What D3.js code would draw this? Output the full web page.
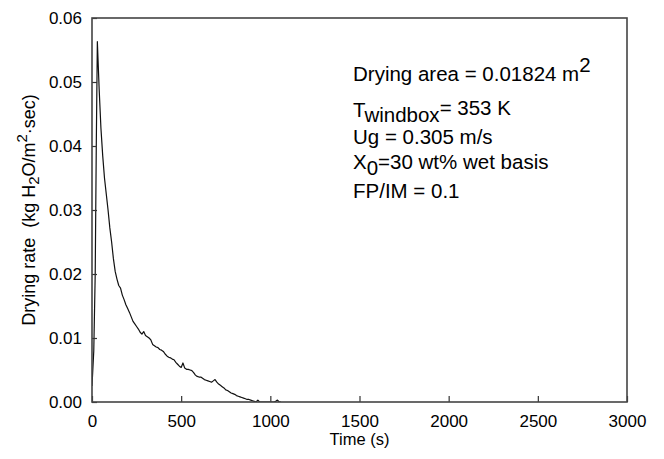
<!DOCTYPE html>
<html>
<head>
<meta charset="utf-8">
<script src="https://cdn.jsdelivr.net/npm/d3@7"></script>
<style>
  html, body { margin: 0; padding: 0; background: #fff; }
  svg { display: block; font-family: "Liberation Sans", Arial, sans-serif; }
</style>
</head>
<body>
<svg id="chart" width="664" height="459"></svg>
<script>
// Time (s)
const time = [0, 10, 18, 24, 30, 40, 50, 60, 70, 80, 90, 100, 110, 120, 130, 140, 150, 160, 170, 180,
  190, 200, 210, 220, 230, 240, 250, 260, 270, 280, 290, 300, 310, 320, 330, 340, 350, 360, 370, 380,
  390, 400, 410, 420, 430, 440, 450, 460, 470, 480, 490, 500, 510, 520, 530, 540, 550, 560, 570, 580,
  590, 600, 610, 620, 630, 640, 650, 660, 670, 680, 690, 700, 710, 720, 730, 740, 750, 760, 770, 780,
  790, 800, 810, 820, 830, 840, 850, 860, 870, 880, 890, 900, 910, 920, 930, 940, 950, 960, 980, 1000,
  1020, 1030, 1040, 1050, 1060];
// Drying rate (kg H2O/m2.sec)
const rate = [0.0025, 0.0080, 0.0200, 0.0400, 0.0563, 0.0490, 0.0428, 0.0385, 0.0350, 0.0325, 0.0300, 0.0272, 0.0250, 0.0224, 0.0204, 0.0192, 0.0182, 0.0178, 0.0167, 0.0160,
  0.0152, 0.0146, 0.0140, 0.0133, 0.0126, 0.0122, 0.0118, 0.0114, 0.0109, 0.0106, 0.0110, 0.0104, 0.0102, 0.0100, 0.0097, 0.0090, 0.0088, 0.0086, 0.0085, 0.0082,
  0.0081, 0.0079, 0.0075, 0.0072, 0.0070, 0.0069, 0.0067, 0.0066, 0.0062, 0.0059, 0.0056, 0.0054, 0.0061, 0.0053, 0.0051, 0.0051, 0.0050, 0.0049, 0.0046, 0.0042,
  0.0040, 0.0039, 0.0039, 0.0037, 0.0035, 0.0034, 0.0033, 0.0032, 0.0031, 0.0033, 0.0035, 0.0031, 0.0028, 0.0026, 0.0024, 0.0022, 0.0019, 0.0018, 0.0016, 0.0014,
  0.0013, 0.0012, 0.0010, 0.0009, 0.0008, 0.0007, 0.0006, 0.0005, 0.0004, 0.0004, 0.0003, 0.0002, 0.0001, 0.0000, 0.0003, 0.0000, 0.0000, 0.0000, 0.0000, 0.0000,
  0.0000, 0.0001, 0.0003, 0.0000, 0.0000];
const xTicks = [0, 500, 1000, 1500, 2000, 2500, 3000];
const yTicks = [0.00, 0.01, 0.02, 0.03, 0.04, 0.05, 0.06];

const svg = d3.select("#chart");
const margin = {left: 92, top: 18, right: 37, bottom: 57};
const W = 664 - margin.left - margin.right;
const H = 459 - margin.top - margin.bottom;

const x = d3.scaleLinear().domain([0, 3000]).range([0, W]);
const y = d3.scaleLinear().domain([0, 0.06]).range([H, 0]);

const g = svg.append("g").attr("transform", `translate(${margin.left},${margin.top})`);

// data line (clipped to plot area)
svg.append("defs").append("clipPath").attr("id", "clip")
  .append("rect").attr("x", 0).attr("y", 0).attr("width", W).attr("height", H);

const pts = time.map((t, i) => [t, rate[i]]);
g.append("path")
  .datum(pts)
  .attr("clip-path", "url(#clip)")
  .attr("fill", "none")
  .attr("stroke", "#111")
  .attr("stroke-width", 1.2)
  .attr("stroke-linejoin", "round")
  .attr("d", d3.line().x(d => x(d[0])).y(d => y(d[1])));

// axes
const xAxis = g.append("g").attr("transform", `translate(0,${H})`)
  .call(d3.axisBottom(x).tickValues(xTicks).tickFormat(d3.format("d"))
    .tickSizeInner(-6).tickSizeOuter(0).tickPadding(13));
const yAxis = g.append("g")
  .call(d3.axisLeft(y).tickValues(yTicks).tickFormat(d3.format(".2f"))
    .tickSizeInner(-5).tickSizeOuter(0).tickPadding(10));

[xAxis, yAxis].forEach(a => {
  a.select(".domain").remove();
  a.selectAll("line").attr("stroke", "#333").attr("stroke-width", 1.2);
  a.selectAll("text").attr("fill", "#000").style("font-size", "17px")
    .style("font-family", "'Liberation Sans', Arial, sans-serif");
});

// frame
g.append("rect").attr("x", 0).attr("y", 0).attr("width", W).attr("height", H)
  .attr("fill", "none").attr("stroke", "#444").attr("stroke-width", 1.6);

// axis titles
svg.append("text")
  .attr("x", margin.left + W / 2).attr("y", 445)
  .attr("text-anchor", "middle").style("font-size", "16.5px").attr("fill", "#000")
  .text("Time (s)");

const yt = svg.append("text")
  .attr("transform", `translate(35,${margin.top + H / 2}) rotate(-90)`)
  .attr("text-anchor", "middle").style("font-size", "18px").attr("fill", "#000");
yt.append("tspan").text("Drying rate\u00a0\u00a0(kg H");
yt.append("tspan").attr("dy", 4).style("font-size", "15px").text("2");
yt.append("tspan").attr("dy", -4).text("O/m");
yt.append("tspan").attr("dy", -8).style("font-size", "15px").text("2");
yt.append("tspan").attr("dy", 8).text("\u00b7sec)");

// annotation
const ann = svg.append("g").style("font-size", "20.5px").attr("fill", "#000");
const l1 = ann.append("text").attr("x", 353).attr("y", 81);
l1.append("tspan").text("Drying area = 0.01824 m");
l1.append("tspan").attr("dy", -9).text("2");

const l2 = ann.append("text").attr("x", 353).attr("y", 117);
l2.append("tspan").text("T");
l2.append("tspan").attr("dy", 5).text("windbox");
l2.append("tspan").attr("dy", -7).text("= 353 K");

ann.append("text").attr("x", 353).attr("y", 144).text("Ug = 0.305 m/s");

const l4 = ann.append("text").attr("x", 353).attr("y", 169);
l4.append("tspan").text("X");
l4.append("tspan").attr("dy", 6).text("0");
l4.append("tspan").attr("dy", -6).text("=30 wt% wet basis");

ann.append("text").attr("x", 353).attr("y", 198).text("FP/IM = 0.1");
</script>
</body>
</html>
